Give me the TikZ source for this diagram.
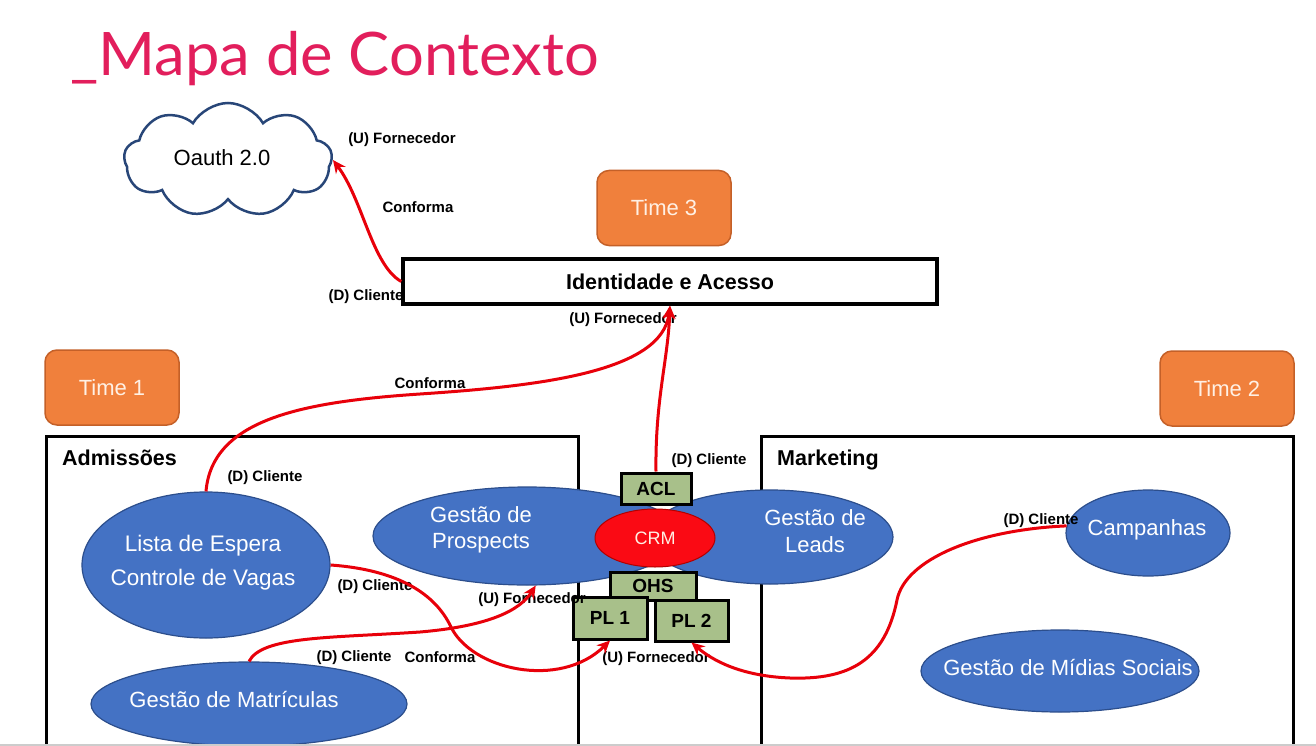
\documentclass[tikz,border=0pt]{standalone}
\usepackage{fontspec}
\setmainfont{Liberation Sans}
\newfontfamily\titlefont{Lato}
\usetikzlibrary{arrows.meta,shapes.geometric,shapes.symbols}
\definecolor{titlered}{RGB}{226,30,92}
\definecolor{timeorange}{RGB}{240,128,60}
\definecolor{timeborder}{RGB}{196,96,40}
\definecolor{timetext}{RGB}{255,240,228}
\definecolor{blueell}{RGB}{68,114,196}
\definecolor{bluebord}{RGB}{44,78,140}
\definecolor{grnfill}{RGB}{168,192,138}
\definecolor{relred}{RGB}{232,0,10}
\definecolor{crmred}{RGB}{250,10,20}
\definecolor{cloudblue}{RGB}{40,70,120}
\begin{document}
\begin{tikzpicture}[x=1pt,y=-1pt,
  lbl/.style={font=\fontsize{15}{18}\selectfont\bfseries, inner sep=0},
  timebox/.style={draw=timeborder, fill=timeorange, rounded corners=12pt, line width=1.5pt,
    minimum width=134, minimum height=75, text=timetext, font=\fontsize{22}{26}\selectfont},
  ctxbox/.style={draw=black, line width=3pt},
  bc/.style={ellipse, draw=bluebord, fill=blueell, line width=1.2pt, text=white, inner sep=0,
    font=\fontsize{22}{26}\selectfont},
  bt/.style={align=center, text=white, inner sep=0},
  grn/.style={draw=black, fill=grnfill, line width=3pt, inner sep=0,
    font=\fontsize{19}{22}\selectfont\bfseries},
  rel/.style={draw=relred, line width=3pt, -{Stealth[length=13pt,width=12pt]}}
]
\useasboundingbox (0,0) rectangle (1316,746);
\fill[white] (0,0) rectangle (1316,746);

% title
\node[anchor=base west, inner sep=0, text=titlered, font=\titlefont\fontsize{60}{70}\selectfont] (title) at (70,76) {\scalebox{1.025}[1]{\_Mapa de Contexto}};

% cloud
\node[cloud, cloud puffs=9, cloud puff arc=120, aspect=1.9, draw=cloudblue, fill=white, line width=2.5pt,
  minimum width=208, minimum height=114, inner sep=0] (oauth) at (228,160) {};
\node[inner sep=0, font=\fontsize{22}{26}\selectfont] (oauth-t) at (222,158) {Oauth 2.0};

% team boxes
\node[timebox] (t3) at (664,208) {Time 3};
\node[timebox] (t1) at (112,387.5) {Time 1};
\node[timebox] (t2) at (1227,388.5) {Time 2};

% context boxes
\draw[ctxbox] (46,760) -- (46,436) -- (578,436) -- (578,760);
\draw[ctxbox] (761,760) -- (761,436) -- (1293,436) -- (1293,760);
\node[anchor=base west, inner sep=0, font=\fontsize{21.5}{25}\selectfont\bfseries] (adm) at (62,465) {Admissões};
\node[anchor=base west, inner sep=0, font=\fontsize{21.5}{25}\selectfont\bfseries] (mkt) at (777,465) {Marketing};

% label partly hidden by the Identidade box
\node[lbl] (l1c) at (366,297) {(D) Cliente};

% ellipses
\node[bc, minimum width=248, minimum height=146] (lista) at (206,565) {};
\node[bc, minimum width=316, minimum height=84] (matr) at (249,704) {};
\node[bc, minimum width=308, minimum height=98] (prosp) at (527,536) {};
\node[bc, minimum width=246, minimum height=94] (leads) at (770,537) {};
\node[bc, minimum width=164, minimum height=86] (camp) at (1148,533) {};
\node[bc, minimum width=278, minimum height=82] (midias) at (1060,671) {};
\node[bt, font=\fontsize{22.5}{34}\selectfont] (lista-t) at (203,563) {Lista de Espera\\Controle de Vagas};
\node[bt, font=\fontsize{22}{26}\selectfont] (matr-t) at (234,700) {Gestão de Matrículas};
\node[bt, font=\fontsize{22}{26}\selectfont] (camp-t) at (1147,530) {Campanhas};
\node[bt, font=\fontsize{22}{26}\selectfont] (midias-t) at (1068,668) {Gestão de Mídias Sociais};
\node[bt, font=\fontsize{22}{26}\selectfont] (prosp-t) at (481,530) {Gestão de\\Prospects};
\node[bt, font=\fontsize{22}{27}\selectfont] (leads-t) at (815,531) {Gestão de\\Leads};

% CRM and boxes
\node[ellipse, draw=red!70!black, fill=crmred, line width=1pt, minimum width=120, minimum height=58, inner sep=0,
  text=timetext, font=\fontsize{18}{22}\selectfont] (crm) at (655,538) {CRM};
\node[grn, minimum width=70, minimum height=31] (acl) at (656,488.5) {ACL};
\node[grn, minimum width=86, minimum height=28] (ohs) at (653,586) {OHS};
\node[grn, minimum width=74, minimum height=42] (pl1) at (610,618) {PL 1};
\node[grn, minimum width=73, minimum height=41] (pl2) at (691.5,620.5) {PL 2};

% Identidade e Acesso
\node[draw=black, fill=white, line width=3.5pt, minimum width=534, minimum height=45, inner sep=0,
  font=\fontsize{21.5}{25}\selectfont\bfseries] (idt) at (670,281.5) {Identidade e Acesso};

% labels
\node[lbl] (l1u) at (402,140) {(U) Fornecedor};
\node[lbl] (l1k) at (418,207) {Conforma};
\node[lbl] (l2u) at (623,320) {(U) Fornecedor};
\node[lbl] (l2k) at (430,383) {Conforma};
\node[lbl] (l2c) at (265,478) {(D) Cliente};
\node[lbl] (l3c) at (709,461) {(D) Cliente};
\node[lbl] (l4c) at (375,587) {(D) Cliente};
\node[lbl] (l4k) at (440,657) {Conforma};
\node[lbl] (l5u) at (532,600) {(U) Fornecedor};
\node[lbl] (l5c) at (354,658) {(D) Cliente};
\node[lbl] (l6u) at (656,659) {(U) Fornecedor};
\node[lbl] (l6c) at (1041,521) {(D) Cliente};

% relations
\draw[rel] (idt.west) .. controls (372,265) and (363,200) .. (oauth.east);
\draw[rel] (lista.north) .. controls (212,420) and (300,402) .. (420,394)
   .. controls (540,386) and (662,372) .. (idt.south);
\draw[rel] (acl.north) .. controls (655,400) and (668,360) .. (idt.south);
\draw[rel] (lista.east) .. controls (400,570) and (435,595) .. (450,625)
   .. controls (470,670) and (560,690) .. (pl1.south);
\draw[rel] (matr.north) .. controls (262,636) and (330,638) .. (420,632)
   .. controls (490,626) and (520,610) .. (prosp.280);
\draw[rel] (camp.175) .. controls (975,530) and (905,560) .. (897,600)
   .. controls (885,660) and (850,680) .. (790,678)
   .. controls (740,676) and (712,660) .. (pl2.south);

% bottom edge line
\draw[gray!40, line width=2pt] (0,745) -- (1316,745);
\end{tikzpicture}
\end{document}
